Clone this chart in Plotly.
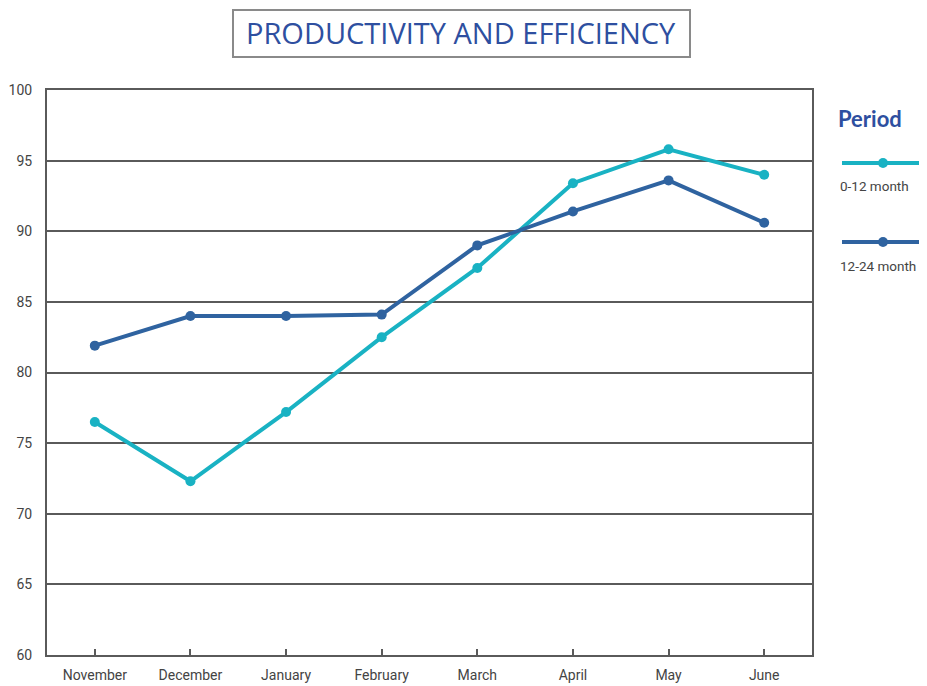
import plotly.graph_objects as go

months = ["November", "December", "January", "February", "March", "April", "May", "June"]
series_a_name = "0-12 month"
series_a = [76.5, 72.3, 77.2, 82.5, 87.4, 93.4, 95.8, 94.0]
series_b_name = "12-24 month"
series_b = [81.9, 84.0, 84.0, 84.1, 89.0, 91.4, 93.6, 90.6]
y_ticks = [60, 65, 70, 75, 80, 85, 90, 95, 100]

teal = "#19b2c3"
navy = "#2f63a0"
grid = "#5a5a5a"
font_fam = "Roboto, Arial, sans-serif"

fig = go.Figure()
fig.add_trace(go.Scatter(x=months, y=series_a, name=series_a_name, mode="lines+markers",
                         line=dict(color=teal, width=4), marker=dict(size=10, color=teal),
                         showlegend=False))
fig.add_trace(go.Scatter(x=months, y=series_b, name=series_b_name, mode="lines+markers",
                         line=dict(color=navy, width=4), marker=dict(size=10, color=navy),
                         showlegend=False))

OFF = 8  # page body margin
W, H = 927 - OFF, 686 - OFF
L, R, T, B = 47 - OFF, 812 - OFF, 90 - OFF, 655 - OFF
fig.update_layout(
    width=W, height=H,
    margin=dict(l=L, r=W - R, t=T, b=H - B, autoexpand=False),
    paper_bgcolor="white", plot_bgcolor="white",
    font=dict(family=font_fam, size=14, color="#444"),
    xaxis=dict(range=[-0.5, 7.5], showgrid=False, ticks="inside", ticklen=6,
               tickcolor=grid, tickwidth=1.5, showline=True, linecolor=grid, linewidth=2,
               mirror=True, tickfont=dict(size=14, color="#444"), zeroline=False,
               ticklabelstandoff=6, automargin=False),
    yaxis=dict(range=[60, 100], tickvals=y_ticks, showgrid=True, gridcolor=grid, gridwidth=1.5,
               showline=True, linecolor=grid, linewidth=2, mirror=True, ticks="",
               ticklabelstandoff=10, tickfont=dict(size=14, color="#444"), zeroline=False,
               automargin=False),
)

def px(xp):
    return (xp - OFF - L) / (R - L)
def py(yp):
    return (B - (yp - OFF)) / (B - T)

# Title box
fig.add_shape(type="rect", xref="paper", yref="paper",
              x0=px(233), x1=px(690), y0=py(57), y1=py(10),
              line=dict(color="#8a8a8a", width=2), fillcolor="white")
fig.add_annotation(text="PRODUCTIVITY AND EFFICIENCY", xref="paper", yref="paper",
                   x=px(461), y=py(33), showarrow=False,
                   font=dict(family="Open Sans, Lato, sans-serif", size=29, color="#2e4fa0"),
                   xanchor="center", yanchor="middle")

# Legend
fig.add_annotation(text="<b>Period</b>", xref="paper", yref="paper", x=px(836), y=py(118),
                   showarrow=False, xanchor="left", yanchor="middle",
                   font=dict(family="Lato, Open Sans, sans-serif", size=22, color="#2e4fa0"))
for name, col, yl, yt in [(series_a_name, teal, 163, 186), (series_b_name, navy, 242, 266)]:
    fig.add_shape(type="line", xref="paper", yref="paper", x0=px(842), x1=px(935),
                  y0=py(yl), y1=py(yl), line=dict(color=col, width=4))
    fig.add_shape(type="circle", xref="paper", yref="paper", x0=px(878), x1=px(888),
                  y0=py(yl + 5), y1=py(yl - 5), line=dict(color=col, width=0), fillcolor=col)
    fig.add_annotation(text=name, xref="paper", yref="paper", x=px(838), y=py(yt),
                       showarrow=False, xanchor="left", yanchor="middle",
                       font=dict(size=13.5, color="#444"))

fig.write_html("out.html")
